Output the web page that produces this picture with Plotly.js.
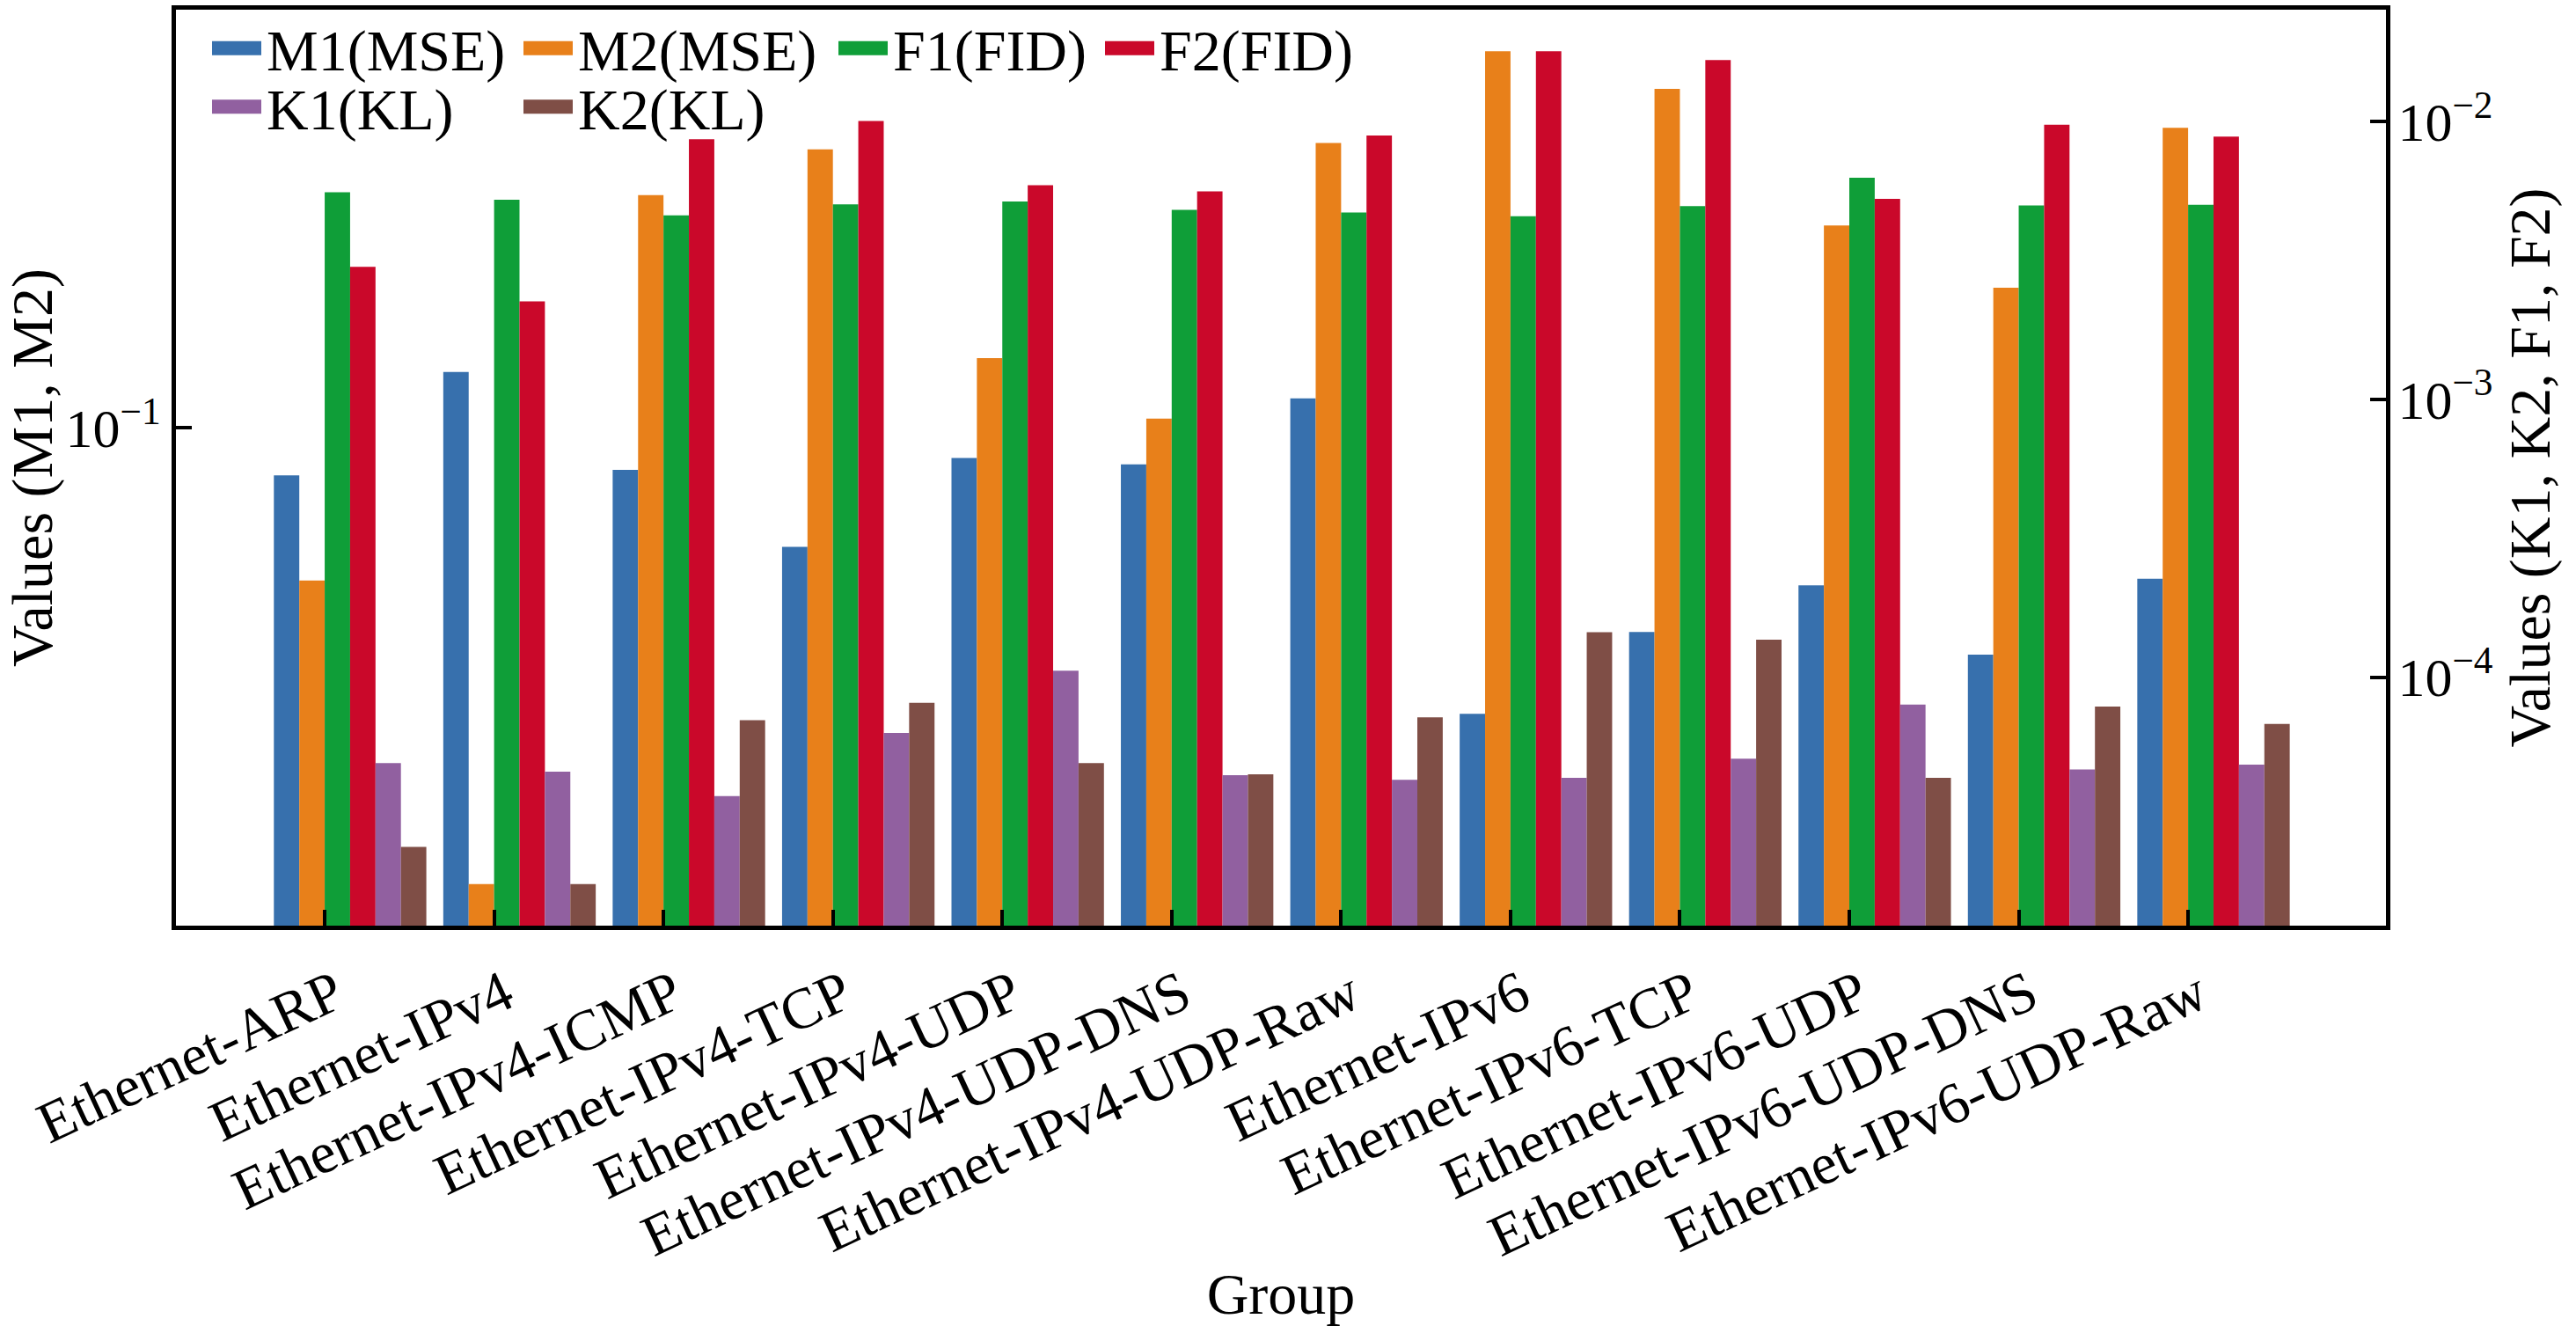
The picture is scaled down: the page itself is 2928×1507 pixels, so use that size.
<!DOCTYPE html>
<html>
<head>
<meta charset="utf-8">
<script src="https://cdn.plot.ly/plotly-3.0.1.min.js"></script>
<style>
  html, body { margin: 0; padding: 0; background: #fff; overflow: hidden; }
  #chart { width: 2928px; height: 1507px; }
</style>
</head>
<body>
<div id="chart"></div>
<script>
// groups on the x axis
const groups = [
    'Ethernet-ARP', 'Ethernet-IPv4', 'Ethernet-IPv4-ICMP', 'Ethernet-IPv4-TCP',
    'Ethernet-IPv4-UDP', 'Ethernet-IPv4-UDP-DNS', 'Ethernet-IPv4-UDP-Raw', 'Ethernet-IPv6',
    'Ethernet-IPv6-TCP', 'Ethernet-IPv6-UDP', 'Ethernet-IPv6-UDP-DNS', 'Ethernet-IPv6-UDP-Raw'
];

// left axis (MSE)
const m1 = [0.0836, 0.1234, 0.0853, 0.0638, 0.0892, 0.0871, 0.1117, 0.0340, 0.0463, 0.0552, 0.0425, 0.0566];
const m2 = [0.0562, 0.0179, 0.2404, 0.2858, 0.1300, 0.1035, 0.2927, 0.4135, 0.3589, 0.2145, 0.1696, 0.3099];

// right axis (FID, KL)
const f1 = [0.00556, 0.00523, 0.00459, 0.00503, 0.00515, 0.00481, 0.00470, 0.00456, 0.00496, 0.00627, 0.00499, 0.00501];
const f2 = [0.00300, 0.00225, 0.00863, 0.01005, 0.00590, 0.00560, 0.00890, 0.01789, 0.01665, 0.00527, 0.00974, 0.00883];
const k1 = [4.90e-5, 4.57e-5, 3.73e-5, 6.29e-5, 1.054e-4, 4.44e-5, 4.27e-5, 4.34e-5, 5.09e-5, 7.96e-5, 4.65e-5, 4.84e-5];
const k2 = [2.45e-5, 1.80e-5, 7.00e-5, 8.08e-5, 4.90e-5, 4.47e-5, 7.16e-5, 1.451e-4, 1.365e-4, 4.34e-5, 7.84e-5, 6.79e-5];

// tick labels
const leftTicks = [0.1];
const leftTickText = ['10<sup>\u22121</sup>'];
const rightTicks = [1e-4, 1e-3, 1e-2];
const rightTickText = ['10<sup>\u22124</sup>', '10<sup>\u22123</sup>', '10<sup>\u22122</sup>'];

const FONT = 'Liberation Serif, Times New Roman, serif';
const W = 2928, H = 1507;
const M = {l: 200, r: 216, t: 5, b: 455};

const series = [
    {name: 'M1(MSE)', values: m1, color: '#3770ad', axis: 'y',  legend: 'legend',  lx: 235,  ly: 49},
    {name: 'M2(MSE)', values: m2, color: '#e8801a', axis: 'y',  legend: 'legend2', lx: 589,  ly: 49},
    {name: 'F1(FID)', values: f1, color: '#0f9e38', axis: 'y2', legend: 'legend3', lx: 947,  ly: 49},
    {name: 'F2(FID)', values: f2, color: '#ca082a', axis: 'y2', legend: 'legend4', lx: 1250, ly: 49},
    {name: 'K1(KL)',  values: k1, color: '#9160a0', axis: 'y2', legend: 'legend5', lx: 235,  ly: 116},
    {name: 'K2(KL)',  values: k2, color: '#7f4e46', axis: 'y2', legend: 'legend6', lx: 589,  ly: 116}
];

const barWidth = 0.15;

// log range with 5% padding, like matplotlib autoscale
function logRange(arrays) {
    const logs = [].concat(...arrays).map(v => Math.log10(v));
    const lo = Math.min(...logs), hi = Math.max(...logs);
    const pad = 0.05 * (hi - lo);
    return [lo - pad, hi + pad];
}

const traces = series.map(function(s, i) {
    return {
        type: 'bar',
        name: s.name,
        x: groups,
        y: s.values,
        yaxis: s.axis,
        width: barWidth,
        offset: -2 * barWidth + i * barWidth,
        marker: {color: s.color, line: {width: 0}},
        legend: s.legend,
        showlegend: true,
        hoverinfo: 'x+y+name'
    };
});

const plotW = W - M.l - M.r;
const plotH = H - M.t - M.b;

const axisLine = {
    ticks: 'inside',
    ticklen: 18,
    tickwidth: 4,
    tickcolor: '#000',
    showline: true,
    linewidth: 5,
    linecolor: '#000',
    showgrid: false,
    zeroline: false,
    automargin: false
};

const layout = {
    width: W,
    height: H,
    margin: M,
    showlegend: true,
    paper_bgcolor: '#fff',
    plot_bgcolor: '#fff',
    barmode: 'overlay',
    font: {family: FONT, size: 62, color: '#000'},
    xaxis: Object.assign({}, axisLine, {
        type: 'category',
        range: [-0.878, 12.168],
        mirror: true,
        tickangle: -25,
        ticklabelstandoff: 9,
        ticklabelshift: 12,
        tickfont: {family: FONT, size: 66},
        title: {text: 'Group', font: {family: FONT, size: 66}, standoff: 10}
    }),
    yaxis: Object.assign({}, axisLine, {
        type: 'log',
        range: logRange([m1, m2]),
        tickvals: leftTicks,
        ticktext: leftTickText,
        tickfont: {family: FONT, size: 62},
        title: {text: 'Values (M1, M2)', font: {family: FONT, size: 66}}
    }),
    yaxis2: Object.assign({}, axisLine, {
        type: 'log',
        overlaying: 'y',
        side: 'right',
        range: logRange([f1, f2, k1, k2]),
        tickvals: rightTicks,
        ticktext: rightTickText,
        ticklabelstandoff: -4,
        tickfont: {family: FONT, size: 62},
        title: {text: 'Values (K1, K2, F1, F2)', font: {family: FONT, size: 66}, standoff: 20}
    })
};

// one small legend per entry so the columns line up like the original
series.forEach(function(s) {
    layout[s.legend] = {
        x: (s.lx - M.l) / plotW,
        y: 1 - (s.ly - M.t) / plotH,
        xanchor: 'left',
        yanchor: 'middle',
        bgcolor: 'rgba(0,0,0,0)',
        borderwidth: 0,
        itemwidth: 58,
        font: {family: FONT, size: 66, color: '#000'}
    };
});

// wider, flatter legend handles like the matplotlib ones
function fixHandles() {
    document.querySelectorAll('#chart .legendpoints path').forEach(function(p) {
        p.setAttribute('d', 'M28,8H-28V-8H28Z');
    });
}

const gd = document.getElementById('chart');
Plotly.newPlot(gd, traces, layout, {displayModeBar: false, responsive: false}).then(function() {
    fixHandles();
    gd.on('plotly_afterplot', fixHandles);
    setTimeout(fixHandles, 50);
});
</script>
</body>
</html>
